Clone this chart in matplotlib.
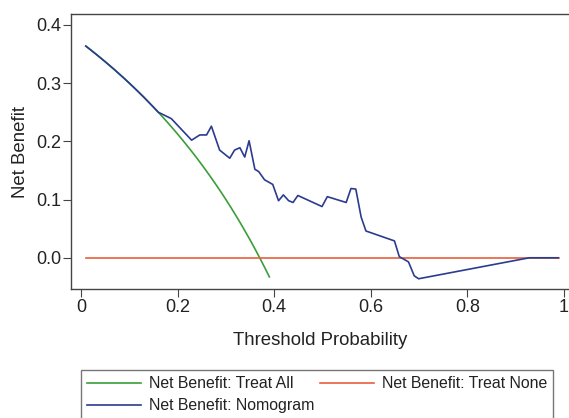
import matplotlib
matplotlib.use("Agg")
import matplotlib.pyplot as plt

plt.rcParams['font.family'] = ['Liberation Sans', 'DejaVu Sans']

# Treat All curve
all_x = [0.01, 0.02, 0.03, 0.04, 0.05, 0.06, 0.07, 0.08, 0.09, 0.10,
         0.11, 0.12, 0.13, 0.14, 0.15, 0.16, 0.17, 0.18, 0.19, 0.20,
         0.21, 0.22, 0.23, 0.24, 0.25, 0.26, 0.27, 0.28, 0.29, 0.30,
         0.31, 0.32, 0.33, 0.34, 0.35, 0.36, 0.37, 0.38, 0.39]
all_y = [0.3636, 0.3571, 0.3505, 0.3437, 0.3368, 0.3298, 0.3226, 0.3152, 0.3077, 0.3000,
         0.2921, 0.2841, 0.2759, 0.2674, 0.2588, 0.2500, 0.2410, 0.2317, 0.2222, 0.2125,
         0.2025, 0.1923, 0.1818, 0.1711, 0.1600, 0.1486, 0.1370, 0.1250, 0.1127, 0.1000,
         0.0870, 0.0735, 0.0597, 0.0454, 0.0308, 0.0156, 0.0000, -0.0161, -0.0328]

# Treat None
none_x = [0.01, 0.99]
none_y = [0.0, 0.0]

# Nomogram
nomo_x = [0.01, 0.03, 0.05, 0.07, 0.09, 0.11, 0.13, 0.15, 0.16,
          0.187, 0.229, 0.246, 0.260, 0.270, 0.287, 0.308, 0.318, 0.329, 0.339,
          0.348, 0.360, 0.368, 0.380, 0.397, 0.409, 0.419, 0.430, 0.439, 0.449,
          0.499, 0.510, 0.549, 0.559, 0.569, 0.580, 0.590, 0.649, 0.659, 0.678,
          0.690, 0.699, 0.928, 0.988]
nomo_y = [0.3636, 0.3505, 0.3368, 0.3226, 0.3077, 0.2921, 0.2759, 0.2588, 0.2500,
          0.239, 0.202, 0.211, 0.211, 0.226, 0.185, 0.171, 0.185, 0.189, 0.173,
          0.201, 0.152, 0.148, 0.134, 0.126, 0.098, 0.108, 0.098, 0.095, 0.107,
          0.088, 0.105, 0.095, 0.119, 0.118, 0.070, 0.046, 0.029, 0.002, -0.007,
          -0.031, -0.036, 0.000, 0.000]

xticks = [0, 0.2, 0.4, 0.6, 0.8, 1]
xticklabels = ['0', '0.2', '0.4', '0.6', '0.8', '1']
yticks = [0.0, 0.1, 0.2, 0.3, 0.4]
yticklabels = ['0.0', '0.1', '0.2', '0.3', '0.4']

W, H = 569, 418
fig = plt.figure(figsize=(W / 100, H / 100), dpi=100)
ax = fig.add_axes([71 / W, 1 - 289 / H, (W - 71) / W, (289 - 14) / H])

c_all = '#3a9e3a'
c_none = '#e8603c'
c_nomo = '#2b3b8f'

l_all, = ax.plot(all_x, all_y, color=c_all, lw=1.2, label='Net Benefit: Treat All')
l_none, = ax.plot(none_x, none_y, color=c_none, lw=1.2, label='Net Benefit: Treat None')
l_nomo, = ax.plot(nomo_x, nomo_y, color=c_nomo, lw=1.2, label='Net Benefit: Nomogram')

ax.set_xlim(-0.0207, 1.0104)
ax.set_ylim(-0.0536, 0.4187)
ax.set_xticks(xticks)
ax.set_xticklabels(xticklabels)
ax.set_yticks(yticks)
ax.set_yticklabels(yticklabels)
ax.spines['right'].set_visible(False)
for s in ['left', 'bottom', 'top']:
    ax.spines[s].set_color('#444444')
    ax.spines[s].set_linewidth(1.0)
ax.tick_params(direction='out', length=6, width=0.8, color='#444444',
               labelsize=13, labelcolor='#222222')
ax.tick_params(axis='y', pad=1)
ax.tick_params(axis='x', pad=1)
ax.set_xlabel('Threshold Probability', fontsize=13.4, color='#222222', labelpad=12)
ax.set_ylabel('Net Benefit', fontsize=13.4, color='#222222', labelpad=5)

leg = fig.legend(handles=[l_all, l_nomo, l_none], ncol=2,
                 loc='upper left',
                 bbox_to_anchor=(81 / W, 1 - 370 / H),
                 fontsize=11.4, frameon=True, fancybox=False,
                 handlelength=3.4, handletextpad=0.5, labelspacing=0.45,
                 columnspacing=0.35, borderpad=0.4, borderaxespad=0.0)
leg.get_frame().set_edgecolor('#555555')
leg.get_frame().set_linewidth(1.0)
for t in leg.get_texts():
    t.set_color('#222222')

fig.savefig('out.png', dpi=100)
